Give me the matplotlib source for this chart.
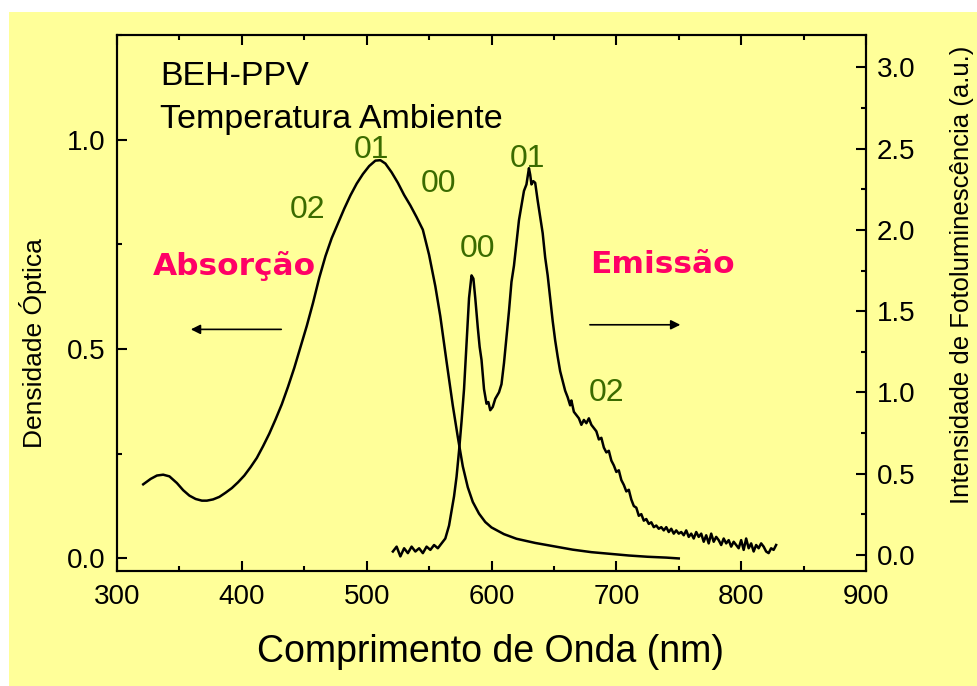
import numpy as np
import matplotlib
matplotlib.use('Agg')
import matplotlib.pyplot as plt
from matplotlib.ticker import MultipleLocator
from matplotlib.patches import Rectangle

## -- DADOS -- ##

# absorcao (eixo esquerdo)
abs_nm = [321, 327, 332, 337, 342, 348, 353, 358, 363, 368, 372, 377, 382, 387,
          392, 397, 402, 407, 412, 417, 422, 427, 432, 437, 442, 447, 452, 457,
          462, 467, 472, 477, 482, 487, 492, 497, 502, 507, 511, 515, 520, 525,
          530, 535, 540, 545, 550, 555, 559, 564, 569, 573, 577, 581, 585, 590,
          595, 600, 610, 620, 635, 650, 665, 680, 695, 710, 725, 740, 750]
abs_od = [0.177, 0.190, 0.198, 0.200, 0.196, 0.180, 0.163, 0.150, 0.142, 0.138,
          0.138, 0.141, 0.147, 0.157, 0.168, 0.182, 0.198, 0.218, 0.240, 0.268,
          0.298, 0.332, 0.368, 0.410, 0.455, 0.505, 0.555, 0.610, 0.670, 0.722,
          0.765, 0.800, 0.835, 0.867, 0.895, 0.918, 0.937, 0.950, 0.951, 0.943,
          0.922, 0.897, 0.868, 0.843, 0.815, 0.785, 0.725, 0.650, 0.578, 0.470,
          0.365, 0.290, 0.220, 0.170, 0.135, 0.107, 0.087, 0.074, 0.058, 0.047,
          0.037, 0.029, 0.021, 0.015, 0.011, 0.007, 0.004, 0.002, 0.000]

# emissao / fotoluminescencia (eixo direito)
pl_nm = [521, 524, 527, 530, 533, 536, 539, 542, 545, 548, 551, 554, 557, 560,
         563, 566, 568, 570, 572, 574, 576, 578, 580, 582, 584, 585.5, 587, 589,
         590.5, 592, 594, 596, 597.5, 599, 601, 603, 606, 608, 610, 612, 614,
         616, 618, 620, 622, 624, 626, 628, 630, 631, 632, 633.5, 635, 637, 639,
         641, 643, 645, 647, 649, 651, 653, 655, 657, 659, 661, 663, 664, 666,
         668, 670, 672, 674, 676, 678, 680, 682, 684, 686, 688, 690, 692, 694,
         696, 698, 700, 702, 704, 706, 708, 710, 712, 714, 716, 718, 720, 722,
         724, 726, 728, 730, 732, 734, 736, 738, 740, 742, 744, 746, 748, 750,
         752, 754, 756, 758, 760, 762, 764, 766, 768, 770, 772, 774, 776, 778,
         780, 782, 784, 786, 788, 790, 792, 794, 796, 798, 800, 802, 804, 806,
         808, 810, 812, 814, 816, 818, 820, 822, 824, 826, 828]
pl_int = [0.02, 0.05, -0.01, 0.04, 0.01, 0.05, 0.02, 0.04, 0.01, 0.05, 0.03,
          0.06, 0.04, 0.07, 0.10, 0.18, 0.27, 0.36, 0.48, 0.64, 0.82, 1.02, 1.30,
          1.58, 1.72, 1.70, 1.58, 1.40, 1.28, 1.20, 1.02, 0.93, 0.94, 0.89, 0.91,
          0.96, 1.00, 1.05, 1.18, 1.34, 1.50, 1.68, 1.78, 1.92, 2.06, 2.15, 2.24,
          2.28, 2.38, 2.34, 2.28, 2.30, 2.29, 2.18, 2.08, 1.98, 1.83, 1.72, 1.58,
          1.44, 1.32, 1.22, 1.13, 1.07, 1.01, 0.97, 0.92, 0.95, 0.88, 0.86, 0.84,
          0.80, 0.83, 0.81, 0.84, 0.80, 0.78, 0.76, 0.71, 0.72, 0.66, 0.63, 0.64,
          0.58, 0.55, 0.51, 0.52, 0.46, 0.43, 0.39, 0.40, 0.34, 0.30, 0.29, 0.24,
          0.25, 0.21, 0.22, 0.19, 0.20, 0.17, 0.18, 0.16, 0.17, 0.15, 0.17, 0.14,
          0.16, 0.13, 0.15, 0.13, 0.14, 0.12, 0.15, 0.11, 0.13, 0.10, 0.14, 0.11,
          0.13, 0.08, 0.12, 0.07, 0.13, 0.08, 0.11, 0.09, 0.06, 0.10, 0.07, 0.09,
          0.05, 0.08, 0.06, 0.04, 0.09, 0.03, 0.10, 0.04, 0.07, 0.02, 0.06, 0.04,
          0.07, 0.05, 0.02, 0.01, 0.04, 0.03, 0.06]

# rotulos das transicoes vibronicas
vib_labels = ['02', '01', '00', '00', '01', '02']
vib_x = [453, 503.5, 557.2, 588.5, 628.5, 691.8]
vib_y = [0.831, 0.976, 0.895, 0.740, 0.955, 0.394]

## -- FIGURA -- ##

amarelo = '#FFFF99'
verde = '#3A6B00'
rosa = '#FF0066'
fonte = ['Liberation Sans', 'DejaVu Sans']
plt.rcParams['font.family'] = fonte

fig = plt.figure(figsize=(9.77, 6.86), dpi=100)
fig.patch.set_facecolor('white')
fig.patches.append(Rectangle((9 / 977, 0), 1, (686 - 12) / 686, transform=fig.transFigure,
                             facecolor=amarelo, edgecolor='none', zorder=-10))

ax = fig.add_axes([117 / 977, 1 - 571 / 686, (866 - 117) / 977, (571 - 35) / 686])
ax.patch.set_visible(False)
ax2 = ax.twinx()
ax2.patch.set_visible(False)

ax.plot(abs_nm, abs_od, color='black', lw=1.8)
ax2.plot(pl_nm, pl_int, color='black', lw=1.8)

ax.set_xlim(300, 900)
ax.set_ylim(-0.03, 1.25)
ax2.set_ylim(-0.1, 3.2)

ax.xaxis.set_major_locator(MultipleLocator(100))
ax.xaxis.set_minor_locator(MultipleLocator(50))
ax.yaxis.set_major_locator(MultipleLocator(0.5))
ax.yaxis.set_minor_locator(MultipleLocator(0.25))
ax2.yaxis.set_major_locator(MultipleLocator(0.5))
ax2.yaxis.set_minor_locator(MultipleLocator(0.25))
ax.yaxis.set_major_formatter(plt.FormatStrFormatter('%.1f'))
ax2.yaxis.set_major_formatter(plt.FormatStrFormatter('%.1f'))

ax.tick_params(axis='x', which='both', direction='in', top=True, bottom=True,
               labelsize=20, pad=9, width=1.5)
ax.tick_params(axis='y', which='both', direction='in', left=True, right=False,
               labelsize=20, pad=8, width=1.5)
ax2.tick_params(axis='y', which='both', direction='in', right=True, left=False,
                labelsize=20, pad=8, width=1.5)
for a in (ax, ax2):
    a.tick_params(which='major', length=7)
    a.tick_params(which='minor', length=3.5)
    for s in a.spines.values():
        s.set_linewidth(1.5)

# rotulos dos eixos
fig.text(491 / 977, 1 - 652 / 686, 'Comprimento de Onda (nm)', fontsize=27,
         ha='center', va='center')
fig.text(33 / 977, 1 - 343 / 686, 'Densidade Óptica', fontsize=19,
         rotation=90, ha='center', va='center')
fig.text(962 / 977, 1 - 275 / 686, 'Intensidade de Fotoluminescência (a.u.)',
         fontsize=18.5, rotation=90, ha='center', va='center')

# textos dentro do grafico
ax.text(334.5, 1.131, 'BEH-PPV', fontsize=24.5, va='baseline', ha='left')
ax.text(334.5, 1.029, 'Temperatura Ambiente', fontsize=24.5, va='baseline', ha='left')

for lab, x, y in zip(vib_labels, vib_x, vib_y):
    ax.text(x, y, lab, color=verde, fontsize=23, ha='center', va='center')

ax.text(393.8, 0.699, 'Absorção', color=rosa, fontsize=22.5, fontweight='bold',
        family='DejaVu Sans', ha='center', va='center')
ax.text(736.7, 0.702, 'Emissão', color=rosa, fontsize=22.5, fontweight='bold',
        family='DejaVu Sans', ha='center', va='center')

ax.annotate('', xy=(356.9, 0.547), xytext=(433.8, 0.547),
            arrowprops=dict(arrowstyle='-|>', color='black', lw=1.2, mutation_scale=14))
ax.annotate('', xy=(753.5, 0.558), xytext=(676.6, 0.558),
            arrowprops=dict(arrowstyle='-|>', color='black', lw=1.2, mutation_scale=14))

fig.savefig('out.png', dpi=100)
